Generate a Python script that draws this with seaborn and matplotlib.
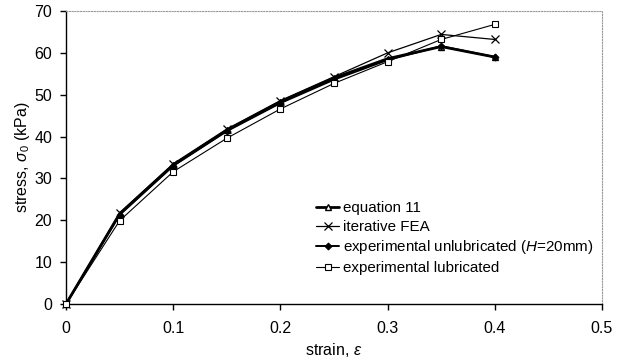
import numpy as np
import pandas as pd
import matplotlib
matplotlib.use("Agg")
import matplotlib.pyplot as plt
import seaborn as sns

# Strain levels and stress responses (kPa) for each method
strain = [0.0, 0.05, 0.10, 0.15, 0.20, 0.25, 0.30, 0.35, 0.40]
equation_11 = [0.0, 21.5, 33.2, 41.5, 48.3, 54.0, 58.6, 61.5, 59.0]
iterative_fea = [0.0, 21.8, 33.5, 41.8, 48.6, 54.3, 60.0, 64.4, 63.2]
exp_unlubricated = [0.0, 21.3, 33.0, 41.3, 48.0, 53.6, 58.3, 61.6, 59.0]
exp_lubricated = [0.0, 19.9, 31.6, 39.6, 46.6, 52.7, 57.9, 63.2, 66.8]

series_labels = [
    "equation 11",
    "iterative FEA",
    r"experimental unlubricated ($\mathit{H}$=20mm)",
    "experimental lubricated",
]
x_ticks = [0, 0.1, 0.2, 0.3, 0.4, 0.5]
x_tick_labels = ["0", "0.1", "0.2", "0.3", "0.4", "0.5"]
y_ticks = [0, 10, 20, 30, 40, 50, 60, 70]

sns.set_theme(style="white")
plt.rcParams["font.family"] = ["Liberation Sans", "DejaVu Sans"]
plt.rcParams["mathtext.fontset"] = "custom"
plt.rcParams["mathtext.rm"] = "Liberation Sans"
plt.rcParams["mathtext.it"] = "Liberation Sans:italic"

fig = plt.figure(figsize=(6.24, 3.64), dpi=100)
ax = fig.add_axes([66 / 624, 1 - 304 / 364, 536 / 624, 293 / 364])

styles = [
    dict(marker="^", markersize=5, markerfacecolor="white", markeredgecolor="black",
         markeredgewidth=1.0, linewidth=2.0),
    dict(marker="x", markersize=6, markeredgecolor="black", markeredgewidth=0.9,
         linewidth=0.9),
    dict(marker="D", markersize=3.5, markerfacecolor="black", markeredgecolor="black",
         linewidth=1.4),
    dict(marker="s", markersize=5, markerfacecolor="white", markeredgecolor="black",
         markeredgewidth=0.8, linewidth=0.8),
]
values = [equation_11, iterative_fea, exp_unlubricated, exp_lubricated]

for vals, label, st in zip(values, series_labels, styles):
    df = pd.DataFrame({"strain": strain, "stress": vals})
    sns.lineplot(data=df, x="strain", y="stress", ax=ax, color="black",
                 label=label, clip_on=False, zorder=3, **st)

ax.set_xlim(0, 0.5)
ax.set_ylim(0, 70)
ax.set_xticks(x_ticks)
ax.set_xticklabels(x_tick_labels)
ax.set_yticks(y_ticks)
ax.tick_params(axis="both", which="major", direction="out", length=4, width=1,
               color="black", labelsize=11.5, labelcolor="black",
               bottom=True, left=True)
ax.tick_params(axis="x", pad=8)
ax.tick_params(axis="y", pad=6)

for side in ("left", "bottom"):
    ax.spines[side].set_color("black")
    ax.spines[side].set_linewidth(1.0)
for side in ("top", "right"):
    ax.spines[side].set_color("#999999")
    ax.spines[side].set_linewidth(0.8)
    ax.spines[side].set_linestyle((0, (1, 1.5)))

ax.set_xlabel(r"strain, $\mathit{\varepsilon}$", fontsize=11.5, color="black", labelpad=4)
ax.set_ylabel(r"stress, $\mathit{\sigma_0}$ (kPa)", fontsize=11.5, color="black")
ax.yaxis.set_label_coords(-0.063, 0.5)

leg = ax.legend(loc="center left", bbox_to_anchor=(0.447, 0.225), frameon=False,
                fontsize=10.9, handlelength=1.5, handletextpad=0.25, labelspacing=0.3,
                borderpad=0.2)
for t in leg.get_texts():
    t.set_color("black")

fig.savefig("out.png", dpi=100)
